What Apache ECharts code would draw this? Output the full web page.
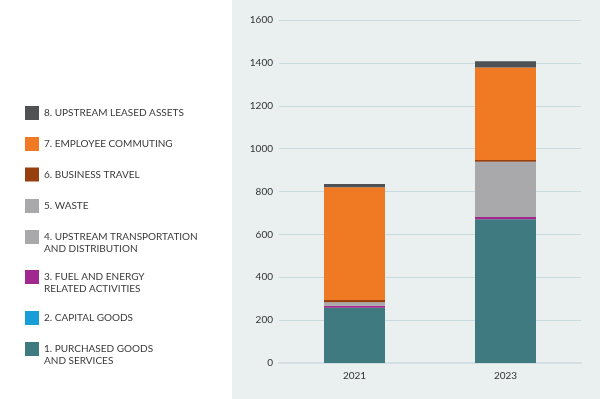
<!DOCTYPE html>
<html>
  <head>
    <meta charset="utf-8">
    <title>Scope 3 emissions</title>
    <style>
      html, body { margin: 0; padding: 0; background: #ffffff; }
    </style>
  </head>
  <body>
    <div id="main" style="width: 600px;height:399px;"></div>
  </body>
  <script type="text/javascript" src="https://cdn.jsdelivr.net/npm/echarts@6/dist/echarts.min.js"></script>
  <script type="text/javascript">
      // categories and tick labels
      var years = ['2021', '2023'];
      var yTicks = [0, 200, 400, 600, 800, 1000, 1200, 1400, 1600];

      // series values
      var purchasedGoods = [258, 670];
      var capitalGoods = [0, 0];
      var fuelEnergy = [9, 11];
      var upstreamTransport = [8, 252];
      var waste = [8, 6];
      var businessTravel = [11, 8];
      var employeeCommuting = [526, 432];
      var leasedAssets = [15, 29];

      var seriesNames = [
          '1. PURCHASED GOODS\nAND SERVICES',
          '2. CAPITAL GOODS',
          '3. FUEL AND ENERGY\nRELATED ACTIVITIES',
          '4. UPSTREAM TRANSPORTATION\nAND DISTRIBUTION',
          '5. WASTE',
          '6. BUSINESS TRAVEL',
          '7. EMPLOYEE COMMUTING',
          '8. UPSTREAM LEASED ASSETS'
      ];
      var seriesData = [purchasedGoods, capitalGoods, fuelEnergy, upstreamTransport,
                        waste, businessTravel, employeeCommuting, leasedAssets];
      var colors = ['#3f7a80', '#189fd8', '#a0288f', '#a9a9ab',
                    '#a9a9ab', '#97400f', '#f07a24', '#4e5254'];
      // legend marker centres (item 1 .. item 8)
      var legendCenters = [349, 318, 277, 237, 206, 174.5, 144, 113];

      var myChart = echarts.init(document.getElementById('main'));

      var series = seriesNames.map(function (name, i) {
          return {
              name: name,
              type: 'bar',
              stack: 'total',
              barWidth: 61,
              itemStyle: { color: colors[i] },
              data: seriesData[i]
          };
      });

      // two-line entries: square sits in the top 14px of a 26px tall icon,
      // so it lines up with the first text line
      var tallIcon = 'path://M0,0L14,0L14,14L0,14Z M0,26L0,26Z';

      var legends = seriesNames.map(function (name, i) {
          var twoLine = name.indexOf('\n') >= 0;
          return {
              data: [name],
              left: 25,
              top: legendCenters[i] - 7,
              itemWidth: 14,
              itemHeight: twoLine ? 26 : 14,
              icon: twoLine ? tallIcon : 'rect',
              selectedMode: false,
              padding: 0,
              textStyle: {
                  fontFamily: 'Lato',
                  fontSize: 10,
                  color: '#3a3a3a',
                  lineHeight: 12
              }
          };
      });

      myChart.setOption({
          animation: false,
          color: colors,
          graphic: [{
              type: 'rect',
              z: -10,
              shape: { x: 232, y: 0, width: 368, height: 399 },
              style: { fill: '#eaf0f0' }
          }],
          legend: legends,
          grid: { left: 279, right: 19, top: 20, bottom: 36 },
          xAxis: {
              type: 'category',
              data: years,
              axisTick: { show: false },
              axisLine: { lineStyle: { color: '#d3dfe3', width: 2 } },
              axisLabel: { color: '#333', fontFamily: 'Lato', fontSize: 10, margin: 8 }
          },
          yAxis: {
              type: 'value',
              min: yTicks[0],
              max: yTicks[yTicks.length - 1],
              interval: 200,
              axisLine: { show: false },
              axisTick: { show: false },
              axisLabel: {
                  color: '#333', fontFamily: 'Lato', fontSize: 10, margin: 6,
                  formatter: function (v) { return String(v); }
              },
              splitLine: { lineStyle: { color: '#c9dadf', width: 1 } }
          },
          series: series
      });
  </script>
</html>
